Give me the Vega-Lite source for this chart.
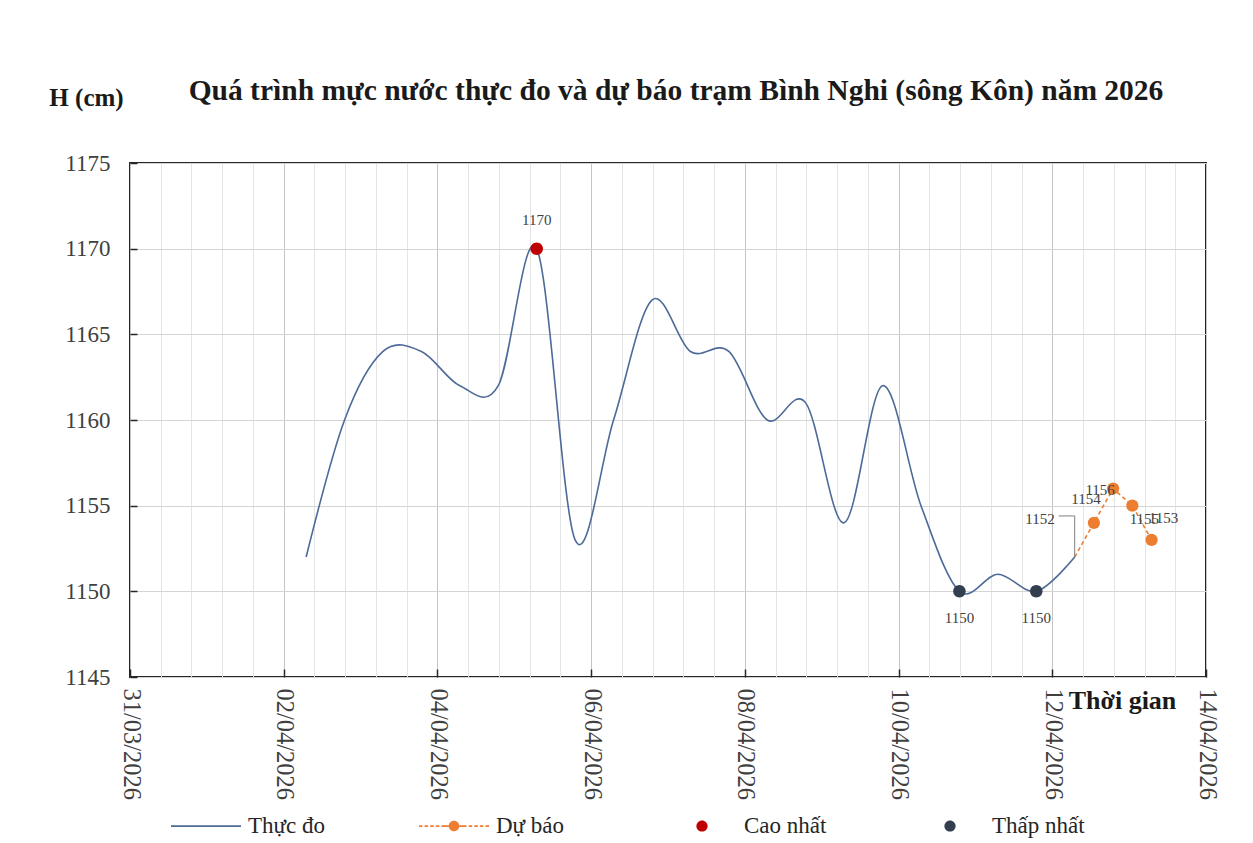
{
  "$schema": "https://vega.github.io/schema/vega-lite/v6.json",
  "width": 1076,
  "height": 514,
  "autosize": {"type": "none"},
  "padding": {"left": 130, "top": 163, "right": 47, "bottom": 166},
  "background": "white",
  "title": {
    "text": "Quá trình mực nước thực đo và dự báo trạm Bình Nghi (sông Kôn) năm 2026",
    "anchor": "middle",
    "frame": "group",
    "dx": 8,
    "offset": -21,
    "font": "Liberation Serif",
    "fontSize": 29.5,
    "fontWeight": "bold",
    "color": "#1a1a1a"
  },
  "config": {
    "view": {"stroke": "#262626", "strokeWidth": 2},
    "axis": {"labelFont": "Liberation Serif", "titleFont": "Liberation Serif"}
  },
  "datasets": {
    "obs": [
      {"t": "2026-04-02T07:00:00Z", "h": 1152},
      {"t": "2026-04-02T19:00:00Z", "h": 1160},
      {"t": "2026-04-03T07:00:00Z", "h": 1164},
      {"t": "2026-04-03T19:00:00Z", "h": 1164},
      {"t": "2026-04-04T07:00:00Z", "h": 1162},
      {"t": "2026-04-04T19:00:00Z", "h": 1162},
      {"t": "2026-04-05T07:00:00Z", "h": 1170},
      {"t": "2026-04-05T19:00:00Z", "h": 1153},
      {"t": "2026-04-06T07:00:00Z", "h": 1160},
      {"t": "2026-04-06T19:00:00Z", "h": 1167},
      {"t": "2026-04-07T07:00:00Z", "h": 1164},
      {"t": "2026-04-07T19:00:00Z", "h": 1164},
      {"t": "2026-04-08T07:00:00Z", "h": 1160},
      {"t": "2026-04-08T19:00:00Z", "h": 1161},
      {"t": "2026-04-09T07:00:00Z", "h": 1154},
      {"t": "2026-04-09T19:00:00Z", "h": 1162},
      {"t": "2026-04-10T07:00:00Z", "h": 1155},
      {"t": "2026-04-10T19:00:00Z", "h": 1150},
      {"t": "2026-04-11T07:00:00Z", "h": 1151},
      {"t": "2026-04-11T19:00:00Z", "h": 1150},
      {"t": "2026-04-12T07:00:00Z", "h": 1152}
    ],
    "fc": [
      {"t": "2026-04-12T07:00:00Z", "h": 1152},
      {"t": "2026-04-12T13:00:00Z", "h": 1154},
      {"t": "2026-04-12T19:00:00Z", "h": 1156},
      {"t": "2026-04-13T01:00:00Z", "h": 1155},
      {"t": "2026-04-13T07:00:00Z", "h": 1153}
    ],
    "ext": [
      {"t": "2026-04-05T07:00:00Z", "h": 1170, "series": "Cao nhất"},
      {"t": "2026-04-10T19:00:00Z", "h": 1150, "series": "Thấp nhất"},
      {"t": "2026-04-11T19:00:00Z", "h": 1150, "series": "Thấp nhất"}
    ]
  },
  "resolve": {"scale": {"x": "shared", "y": "shared"}, "axis": {"x": "independent"}},
  "layer": [
    {
      "data": {"name": "obs"},
      "mark": {"type": "line", "interpolate": "cardinal", "color": "#4d6a98", "strokeWidth": 1.6},
      "encoding": {
        "x": {
          "field": "t", "type": "temporal",
          "scale": {"type": "utc", "domain": [1774915200000, 1776124800000]},
          "axis": {
            "orient": "bottom",
            "values": [1774915200000, 1774949760000, 1774984320000, 1775018880000, 1775053440000, 1775088000000, 1775122560000, 1775157120000, 1775191680000, 1775226240000, 1775260800000, 1775295360000, 1775329920000, 1775364480000, 1775399040000, 1775433600000, 1775468160000, 1775502720000, 1775537280000, 1775571840000, 1775606400000, 1775640960000, 1775675520000, 1775710080000, 1775744640000, 1775779200000, 1775813760000, 1775848320000, 1775882880000, 1775917440000, 1775952000000, 1775986560000, 1776021120000, 1776055680000, 1776090240000, 1776124800000],
            "grid": true, "gridColor": "#e4e4e4", "gridWidth": 1,
            "ticks": false, "labels": false, "domain": false, "title": null
          }
        },
        "y": {
          "field": "h", "type": "quantitative",
          "scale": {"domain": [1145, 1175], "nice": false, "zero": false},
          "axis": {
            "values": [1145, 1150, 1155, 1160, 1165, 1170, 1175],
            "format": "d",
            "grid": true, "gridColor": "#d4d4d4",
            "domain": false,
            "tickSize": -7, "tickColor": "#262626", "tickWidth": 1.5,
            "labelFontSize": 23, "labelColor": "#404040", "labelPadding": 27,
            "title": "H (cm)", "titleFontSize": 25, "titleFontWeight": "bold", "titleColor": "#1a1a1a",
            "titleAngle": 0, "titleX": -44, "titleY": -66, "titleAlign": "center", "titleBaseline": "middle"
          }
        }
      }
    },
    {
      "data": {"name": "fc"},
      "mark": {"type": "line", "color": "#ED7D31", "strokeWidth": 1.6, "strokeDash": [4, 3]},
      "encoding": {
        "x": {
          "field": "t", "type": "temporal",
          "axis": {
            "orient": "bottom",
            "values": [1774915200000, 1775088000000, 1775260800000, 1775433600000, 1775606400000, 1775779200000, 1775952000000, 1776124800000],
            "labelExpr": "utcFormat(datum.value, '%d/%m/%Y')",
            "grid": true, "gridColor": "#c4c4c4",
            "domain": false,
            "tickSize": -8, "tickColor": "#262626", "tickWidth": 1.5,
            "labelAngle": 90, "labelAlign": "left", "labelBaseline": "middle",
            "labelFontSize": 24.5, "labelColor": "#404040", "labelPadding": 19,
            "labelFlush": false, "labelOverlap": false, "labelBound": false,
            "title": "Thời gian", "titleFontSize": 26, "titleFontWeight": "bold", "titleColor": "#1a1a1a",
            "titleAngle": 0, "titleX": 992, "titleY": 23, "titleAlign": "center", "titleBaseline": "middle"
          }
        },
        "y": {"field": "h", "type": "quantitative"}
      }
    },
    {
      "data": {"name": "fc"},
      "transform": [{"filter": "time(datum.t) > 1775977200000"}],
      "mark": {"type": "point", "filled": true, "opacity": 1, "size": 150, "color": "#ED7D31"},
      "encoding": {
        "x": {"field": "t", "type": "temporal", "axis": null},
        "y": {"field": "h", "type": "quantitative"}
      }
    },
    {
      "data": {"name": "ext"},
      "mark": {"type": "point", "filled": true, "opacity": 1, "size": 6100},
      "encoding": {
        "x": {"field": "t", "type": "temporal", "axis": null},
        "y": {"field": "h", "type": "quantitative"},
        "color": {
          "field": "series", "type": "nominal",
          "scale": {"domain": ["Thực đo", "Dự báo", "Cao nhất", "Thấp nhất"], "range": ["#4d6a98", "#ED7D31", "#C00000", "#333F50"]},
          "legend": {
            "orient": "none", "legendX": 41, "legendY": 628,
            "direction": "horizontal", "columns": 4, "title": null,
            "labelFont": "Liberation Serif", "labelFontSize": 23, "labelColor": "#262626",
            "labelOffset": 7, "columnPadding": 78, "padding": 0, "gridAlign": "all",
            "symbolStrokeWidth": 0, "symbolSize": 4900
          }
        },
        "shape": {
          "field": "series", "type": "nominal",
          "scale": {
            "domain": ["Thực đo", "Dự báo", "Cao nhất", "Thấp nhất"],
            "range": [
              "M-1,-0.025H1V0.025H-1Z",
              "M-1,-0.025H-0.9V0.025H-1ZM-0.84,-0.025H-0.74V0.025H-0.84ZM-0.68,-0.025H-0.58V0.025H-0.68ZM-0.52,-0.025H-0.42V0.025H-0.52ZM-0.36,-0.025H-0.26V0.025H-0.36ZM0.26,-0.025H0.36V0.025H0.26ZM0.42,-0.025H0.52V0.025H0.42ZM0.58,-0.025H0.68V0.025H0.58ZM0.74,-0.025H0.84V0.025H0.74ZM0.9,-0.025H1V0.025H0.9ZM-0.26,-0.025H-0.15V0.025H-0.26ZM0.15,-0.025H0.26V0.025H0.15ZM-0.15,0A0.15,0.15,0,1,0,0.15,0A0.15,0.15,0,1,0,-0.15,0Z",
              "M-0.16,0A0.16,0.16,0,1,0,0.16,0A0.16,0.16,0,1,0,-0.16,0Z",
              "M-0.16,0A0.16,0.16,0,1,0,0.16,0A0.16,0.16,0,1,0,-0.16,0Z"
            ]
          }
        }
      }
    },
    {
      "data": {"name": "ext"},
      "transform": [{"filter": "datum.series == 'Cao nhất'"}],
      "mark": {"type": "text", "font": "Liberation Serif", "fontSize": 15, "color": "#404040", "dy": -29},
      "encoding": {
        "x": {"field": "t", "type": "temporal", "axis": null},
        "y": {"field": "h", "type": "quantitative"},
        "text": {"field": "h", "type": "quantitative"}
      }
    },
    {
      "data": {"name": "ext"},
      "transform": [{"filter": "datum.series == 'Thấp nhất'"}],
      "mark": {"type": "text", "font": "Liberation Serif", "fontSize": 15, "color": "#404040", "dy": 27},
      "encoding": {
        "x": {"field": "t", "type": "temporal", "axis": null},
        "y": {"field": "h", "type": "quantitative"},
        "text": {"field": "h", "type": "quantitative"}
      }
    },
    {
      "data": {"name": "fc"},
      "transform": [{"filter": "datum.h == 1152"}],
      "mark": {"type": "text", "font": "Liberation Serif", "fontSize": 15, "color": "#404040", "align": "right", "dx": -20, "dy": -38},
      "encoding": {
        "x": {"field": "t", "type": "temporal", "axis": null},
        "y": {"field": "h", "type": "quantitative"},
        "text": {"field": "h", "type": "quantitative"}
      }
    },
    {
      "data": {"name": "fc"},
      "transform": [{"filter": "datum.h == 1154"}],
      "mark": {"type": "text", "font": "Liberation Serif", "fontSize": 15, "color": "#404040", "dx": -8, "dy": -24},
      "encoding": {
        "x": {"field": "t", "type": "temporal", "axis": null},
        "y": {"field": "h", "type": "quantitative"},
        "text": {"field": "h", "type": "quantitative"}
      }
    },
    {
      "data": {"name": "fc"},
      "transform": [{"filter": "datum.h == 1156"}],
      "mark": {"type": "text", "font": "Liberation Serif", "fontSize": 15, "color": "#404040", "dx": -13, "dy": 1},
      "encoding": {
        "x": {"field": "t", "type": "temporal", "axis": null},
        "y": {"field": "h", "type": "quantitative"},
        "text": {"field": "h", "type": "quantitative"}
      }
    },
    {
      "data": {"name": "fc"},
      "transform": [{"filter": "datum.h == 1155"}],
      "mark": {"type": "text", "font": "Liberation Serif", "fontSize": 15, "color": "#404040", "dx": 12, "dy": 13},
      "encoding": {
        "x": {"field": "t", "type": "temporal", "axis": null},
        "y": {"field": "h", "type": "quantitative"},
        "text": {"field": "h", "type": "quantitative"}
      }
    },
    {
      "data": {"name": "fc"},
      "transform": [{"filter": "datum.h == 1153"}],
      "mark": {"type": "text", "font": "Liberation Serif", "fontSize": 15, "color": "#404040", "dx": 12, "dy": -22},
      "encoding": {
        "x": {"field": "t", "type": "temporal", "axis": null},
        "y": {"field": "h", "type": "quantitative"},
        "text": {"field": "h", "type": "quantitative"}
      }
    },
    {
      "data": {"name": "fc"},
      "transform": [{"filter": "datum.h == 1152"}],
      "mark": {"type": "rule", "color": "#7f7f7f", "strokeWidth": 1},
      "encoding": {
        "x": {"field": "t", "type": "temporal", "axis": null},
        "y": {"field": "h", "type": "quantitative"},
        "y2": {"datum": 1154.4}
      }
    },
    {
      "data": {"name": "fc"},
      "transform": [{"filter": "datum.h == 1152"}],
      "mark": {"type": "rule", "color": "#7f7f7f", "strokeWidth": 1},
      "encoding": {
        "x": {"field": "t", "type": "temporal", "axis": null},
        "x2": {"datum": {"year": 2026, "month": 4, "date": 12, "hours": 2, "utc": true}},
        "y": {"datum": 1154.4, "type": "quantitative"}
      }
    }
  ]
}
